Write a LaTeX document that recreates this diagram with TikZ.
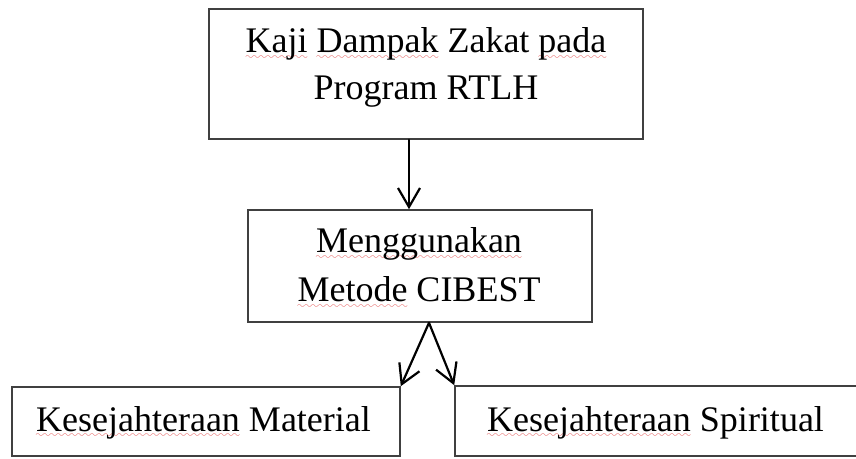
\documentclass[tikz,border=0pt]{standalone}
\usepackage{fontspec}
\setmainfont{Liberation Serif}
\usetikzlibrary{arrows.meta}
\definecolor{boxgray}{HTML}{404040}
\definecolor{spellred}{HTML}{E03C3C}
\font\myly=lasy10
\newcommand\spellerr[1]{\setbox0\hbox{#1}\rlap{\lower6.5pt\hbox to\wd0{\color{spellred}\xleaders\hbox{\myly\char58}\hfil}}\box0\relax}
\begin{document}
\begin{tikzpicture}[x=1pt,y=1pt,
  box/.style={draw=boxgray,line width=1.6pt,inner sep=0pt},
  lbl/.style={anchor=base,inner sep=0pt,font=\fontsize{36}{43}\selectfont},
  arr/.style={line width=2.2pt,line cap=round,-{Straight Barb[length=19pt,width=22pt]}}]
\useasboundingbox (0,0) rectangle (856,458);
\fill[white] (0,0) rectangle (856,458);
\node[box,minimum width=434pt,minimum height=130pt] (top) at (426,384) {};
\node[box,minimum width=344pt,minimum height=112pt] (mid) at (420,192) {};
\node[box,minimum width=388pt,minimum height=69pt] (mat) at (206,36.5) {};
\node[box,minimum width=415pt,minimum height=70pt] (spi) at (662.5,37) {};
\node[lbl] (t1) at (426,405) {\spellerr{Kaji} \spellerr{Dampak} Zakat \spellerr{pada}};
\node[lbl] (t2) at (426,358) {Program RTLH};
\node[lbl] (m1) at (419,205) {\spellerr{Menggunakan}};
\node[lbl] (m2) at (419,156) {\spellerr{Metode} CIBEST};
\node[lbl] (b1) at (203.5,27) {\spellerr{Kesejahteraan} Material};
\node[lbl] (b2) at (655.5,27) {\spellerr{Kesejahteraan} Spiritual};
\draw[arr] (409,0 |- top.south) -- (409,0 |- mid.north);
\draw[arr] (429,0 |- mid.south) -- (mat.north east);
\draw[arr] (429,0 |- mid.south) -- (spi.north west);
\end{tikzpicture}
\end{document}
